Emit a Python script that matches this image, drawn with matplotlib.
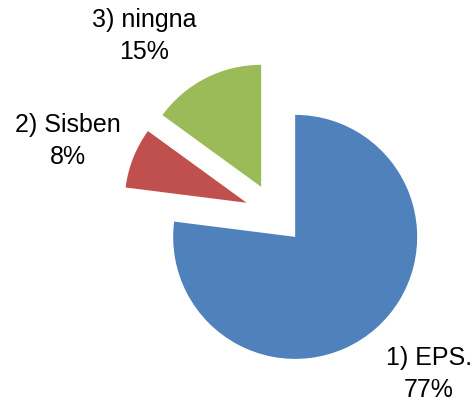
import matplotlib
matplotlib.use('Agg')
import matplotlib.pyplot as plt

LABELS = ['1) EPS.', '2) Sisben', '3) ningna']
SHARES = [77, 8, 15]
COLORS = ['#4F81BD', '#C0504D', '#9BBB59']
EXPLODE = [0.25, 0.25, 0.25]

# where each label block sits, in units of pie radius
LABEL_POS = [(1.262, -1.311), (-1.697, 0.598), (-1.074, 1.459)]


def main():
    plt.rcParams['font.family'] = ['Liberation Sans', 'DejaVu Sans']
    fig = plt.figure(figsize=(4.75, 4.05), dpi=100)
    ax = fig.add_axes([0, 0, 1, 1])

    ax.pie(SHARES, colors=COLORS, explode=EXPLODE, startangle=90,
           counterclock=False, radius=1.0,
           wedgeprops={'linewidth': 0})

    for lab, val, (x, y) in zip(LABELS, SHARES, LABEL_POS):
        ax.text(x, y, '{}\n{}%'.format(lab, val), ha='center', va='center',
                fontsize=18, linespacing=1.45, color='black')

    px = 122.0
    ax.set_xlim(-275 / px, 200 / px)
    ax.set_ylim(-191 / px, 214 / px)
    ax.set_aspect('auto')
    ax.axis('off')

    fig.savefig('out.png', dpi=100, facecolor='white')


if __name__ == '__main__':
    main()
